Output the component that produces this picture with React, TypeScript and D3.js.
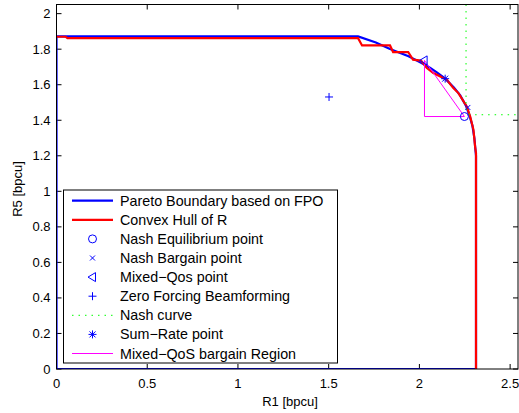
import React from "react";
import * as d3 from "d3";

// Pareto boundary based on FPO (closed region outline)
const paretoR1 = [0, 0, 1.662, 1.76, 1.838, 1.94, 2.004, 2.06, 2.1, 2.142, 2.19, 2.225, 2.255, 2.275, 2.292, 2.303, 2.31, 2.312, 2.312, 0];
const paretoR5 = [0, 1.872, 1.872, 1.838, 1.801, 1.76, 1.726, 1.695, 1.667, 1.634, 1.585, 1.54, 1.485, 1.43, 1.37, 1.3, 1.22, 1.2, 0, 0];

// Convex hull of R (step-wise upper boundary)
const hullR1 = [0, 0.05, 0.06, 1.662, 1.684, 1.838, 1.855, 1.938, 1.965, 2.009, 2.041, 2.077, 2.151, 2.187, 2.215, 2.261, 2.28, 2.298, 2.307, 2.312, 2.312];
const hullR5 = [1.87, 1.87, 1.862, 1.862, 1.821, 1.821, 1.784, 1.784, 1.741, 1.736, 1.694, 1.666, 1.628, 1.581, 1.553, 1.478, 1.421, 1.346, 1.252, 1.215, 0];

// Nash curve
const nashR1 = [2.257, 2.257, 2.259, 2.266, 2.28, 2.3, 2.5434];
const nashR5 = [2.0515, 1.47, 1.45, 1.438, 1.433, 1.431, 1.431];

// Mixed-QoS bargain region
const regionR1 = [2.028, 2.028, 2.248, 2.028];
const regionR5 = [1.737, 1.421, 1.421, 1.737];

// Operating points
const nashEq = [2.248, 1.421];
const nashBargain = [2.267, 1.472];
const mixedQos = [2.026, 1.737];
const zeroForcing = [1.502, 1.531];
const sumRate = [2.142, 1.634];

const xTicks = [0, 0.5, 1, 1.5, 2, 2.5];
const xTickLabels = ["0", "0.5", "1", "1.5", "2", "2.5"];
const yTicks = [0, 0.2, 0.4, 0.6, 0.8, 1, 1.2, 1.4, 1.6, 1.8, 2];
const yTickLabels = ["0", "0.2", "0.4", "0.6", "0.8", "1", "1.2", "1.4", "1.6", "1.8", "2"];

const legendLabels = [
  "Pareto Boundary based on FPO",
  "Convex Hull of R",
  "Nash Equilibrium point",
  "Nash Bargain point",
  "Mixed\u2212Qos point",
  "Zero Forcing Beamforming",
  "Nash curve",
  "Sum\u2212Rate point",
  "Mixed\u2212QoS bargain Region",
];

const W = 519;
const H = 413;
const L = 56.5, R = 518, T = 4.5, B = 369;
const FONT = "'Liberation Sans', Arial, Helvetica, sans-serif";
const BLUE = "#0000ff";
const RED = "#ff0000";
const GREEN = "#00ff00";
const MAGENTA = "#ff00ff";

function zip(a: number[], b: number[]): [number, number][] {
  return a.map((v, i) => [v, b[i]]);
}

function Marker({ kind, x, y }: { kind: string; x: number; y: number }) {
  const s = BLUE;
  if (kind === "o") return <circle cx={x} cy={y} r={4} fill="none" stroke={s} strokeWidth={1} />;
  if (kind === "x")
    return (
      <g stroke={s} strokeWidth={1}>
        <line x1={x - 2.5} y1={y - 2.5} x2={x + 2.5} y2={y + 2.5} />
        <line x1={x - 2.5} y1={y + 2.5} x2={x + 2.5} y2={y - 2.5} />
      </g>
    );
  if (kind === "<")
    return <path d={`M${x - 4.5},${y} L${x + 3},${y - 4.5} L${x + 3},${y + 4.5} Z`} fill="none" stroke={s} strokeWidth={1} />;
  if (kind === "+")
    return (
      <g stroke={s} strokeWidth={1}>
        <line x1={x - 4} y1={y} x2={x + 4} y2={y} />
        <line x1={x} y1={y - 4} x2={x} y2={y + 4} />
      </g>
    );
  if (kind === "*")
    return (
      <g stroke={s} strokeWidth={1}>
        <line x1={x - 4} y1={y} x2={x + 4} y2={y} />
        <line x1={x} y1={y - 4} x2={x} y2={y + 4} />
        <line x1={x - 3} y1={y - 3} x2={x + 3} y2={y + 3} />
        <line x1={x - 3} y1={y + 3} x2={x + 3} y2={y - 3} />
      </g>
    );
  return null;
}

export default function App() {
  const x = d3.scaleLinear().domain([0, 2.5434]).range([L, R]);
  const y = d3.scaleLinear().domain([0, 2.0515]).range([B, T]);
  const line = d3.line<[number, number]>().x((d) => x(d[0])).y((d) => y(d[1]));

  const legX = 63.5, legY = 190, legW = 274, legH = 173;
  const rowY = (i: number) => 200.7 + i * 19.1;
  const sampleX1 = 72, sampleX2 = 113, textX = 120;

  return (
    <svg width={W} height={H} style={{ position: "absolute", left: 0, top: 0, background: "#fff" }} fontFamily={FONT}>
      <rect x={0} y={0} width={W} height={H} fill="#fff" />
      <defs>
        <clipPath id="plot">
          <rect x={L} y={T} width={R - L} height={B - T} />
        </clipPath>
      </defs>

      {/* ticks */}
      <g stroke="#000" strokeWidth={1}>
        {xTicks.map((t) => (
          <g key={"xt" + t}>
            <line x1={x(t)} x2={x(t)} y1={B} y2={B - 5} />
            <line x1={x(t)} x2={x(t)} y1={T} y2={T + 5} />
          </g>
        ))}
        {yTicks.map((t) => (
          <g key={"yt" + t}>
            <line x1={L} x2={L + 5} y1={y(t)} y2={y(t)} />
            <line x1={R} x2={R - 5} y1={y(t)} y2={y(t)} />
          </g>
        ))}
      </g>

      <g clipPath="url(#plot)">
        <path d={line(zip(paretoR1, paretoR5)) || ""} fill="none" stroke={BLUE} strokeWidth={2.2} />
        <path d={line(zip(hullR1, hullR5)) || ""} fill="none" stroke={RED} strokeWidth={2.2} />
        <path d={line(zip(nashR1, nashR5)) || ""} fill="none" stroke={GREEN} strokeWidth={1} strokeDasharray="1.5,5" />
        <path d={line(zip(regionR1, regionR5)) || ""} fill="none" stroke={MAGENTA} strokeWidth={1} />
        <Marker kind="o" x={x(nashEq[0])} y={y(nashEq[1])} />
        <Marker kind="x" x={x(nashBargain[0])} y={y(nashBargain[1])} />
        <Marker kind="<" x={x(mixedQos[0])} y={y(mixedQos[1])} />
        <Marker kind="+" x={x(zeroForcing[0])} y={y(zeroForcing[1])} />
        <Marker kind="*" x={x(sumRate[0])} y={y(sumRate[1])} />
      </g>

      {/* axes box */}
      <rect x={L} y={T} width={R - L} height={B - T} fill="none" stroke="#000" strokeWidth={1} />

      {/* tick labels */}
      <g fontSize={13} fill="#000">
        {xTicks.map((t, i) => (
          <text key={"xl" + t} x={x(t)} y={388} textAnchor="middle">{xTickLabels[i]}</text>
        ))}
        {yTicks.map((t, i) => (
          <text key={"yl" + t} x={50.5} y={y(t) + 4.5} textAnchor="end">{yTickLabels[i]}</text>
        ))}
      </g>

      <text x={290} y={406} textAnchor="middle" fontSize={13}>R1 [bpcu]</text>
      <text transform="translate(21.5,189) rotate(-90)" textAnchor="middle" fontSize={13}>R5 [bpcu]</text>

      {/* legend */}
      <rect x={legX} y={legY} width={legW} height={legH} fill="#fff" stroke="#000" strokeWidth={1} />
      <line x1={sampleX1} x2={sampleX2} y1={rowY(0)} y2={rowY(0)} stroke={BLUE} strokeWidth={2.2} />
      <line x1={sampleX1} x2={sampleX2} y1={rowY(1)} y2={rowY(1)} stroke={RED} strokeWidth={2.2} />
      <Marker kind="o" x={92.5} y={rowY(2)} />
      <Marker kind="x" x={92.5} y={rowY(3)} />
      <Marker kind="<" x={92.5} y={rowY(4)} />
      <Marker kind="+" x={92.5} y={rowY(5)} />
      <line x1={sampleX1} x2={sampleX2} y1={rowY(6)} y2={rowY(6)} stroke={GREEN} strokeWidth={1} strokeDasharray="1.5,5" />
      <Marker kind="*" x={92.5} y={rowY(7)} />
      <line x1={sampleX1} x2={sampleX2} y1={rowY(8)} y2={rowY(8)} stroke={MAGENTA} strokeWidth={1.2} />
      <g fontSize={14.3} fill="#000">
        {legendLabels.map((s, i) => (
          <text key={s} x={textX} y={rowY(i) + 5}>{s}</text>
        ))}
      </g>
    </svg>
  );
}
